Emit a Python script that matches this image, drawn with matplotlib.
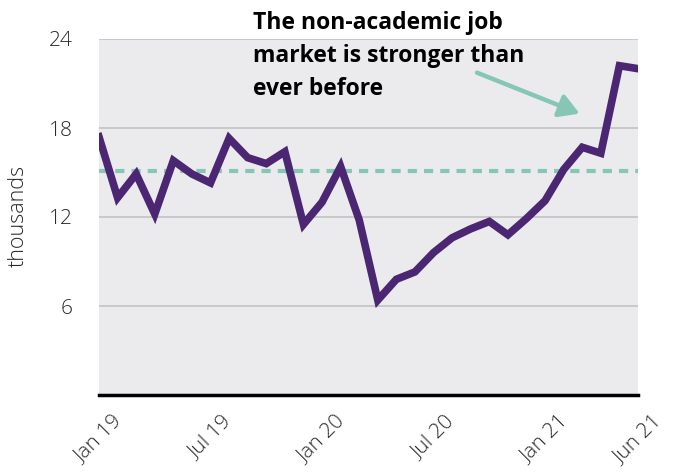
import numpy as np
import matplotlib
matplotlib.use("Agg")
import matplotlib.pyplot as plt

# monthly job postings (thousands), Jan 2019 - Jun 2021
months = np.arange(30)
postings = [17.4, 13.3, 14.9, 12.2, 15.8, 14.9, 14.3, 17.3, 16.0, 15.6,
            16.4, 11.5, 13.0, 15.4, 11.8, 6.4, 7.8, 8.3, 9.6, 10.6,
            11.2, 11.7, 10.8, 11.9, 13.1, 15.2, 16.7, 16.3, 22.2, 22.0]
average = 15.1

tick_pos = [0, 6, 12, 18, 24, 29]
tick_labels = ["Jan 19", "Jul 19", "Jan 20", "Jul 20", "Jan 21", "Jun 21"]
y_ticks = [6, 12, 18, 24]

purple = "#4b2672"
teal = "#86c6b4"
txt = "#2a2a2a"

plt.rcParams['font.family'] = ['Open Sans', 'DejaVu Sans']

fig = plt.figure(figsize=(6.8, 4.76), dpi=100)
# plot area: x 99..638 px, y 39..395 px
ax = fig.add_axes([99 / 680, 1 - 395 / 476, 539 / 680, 356 / 476])
ax.set_facecolor("#ebebed")

for y in y_ticks:
    ax.axhline(y, color="#c6c6c8", lw=1.3, zorder=1)

ax.axhline(average, color=teal, lw=3, ls=(0, (2.2, 1.7)), zorder=2)
ax.plot(months, postings, color=purple, lw=5.5, solid_joinstyle="miter", zorder=3)

ax.set_xlim(0, 29)
ax.set_ylim(0, 24)
ax.set_yticks(y_ticks)
ax.set_yticklabels([str(v) for v in y_ticks], fontsize=15, fontweight="light", color=txt)
ax.set_xticks(tick_pos)
ax.set_xticklabels(tick_labels, rotation=45, ha="center",
                   fontsize=15, fontweight="light", color=txt)
ax.tick_params(axis="x", length=0, pad=12)
ax.tick_params(axis="y", length=0, pad=19)

fig.text(18 / 680, 1 - 216 / 476, "thousands", rotation=90, ha="center", va="center",
         fontsize=15.5, fontweight="light", color=txt)

for s in ["top", "right", "left"]:
    ax.spines[s].set_visible(False)
ax.spines["bottom"].set_color("black")
ax.spines["bottom"].set_linewidth(2.5)

fig.text(253 / 680, 1 - 11 / 476, "The non-academic job\nmarket is stronger than\never before",
         ha="left", va="top", fontsize=16.5, fontweight="bold", color="black",
         linespacing=1.5)

ax.annotate("", xy=(26.0, 18.9), xytext=(20.2, 21.8),
            arrowprops=dict(arrowstyle="-|>,head_length=1.2,head_width=0.7",
                            color=teal, lw=3.2), annotation_clip=False)

fig.savefig("out.png", dpi=100)
